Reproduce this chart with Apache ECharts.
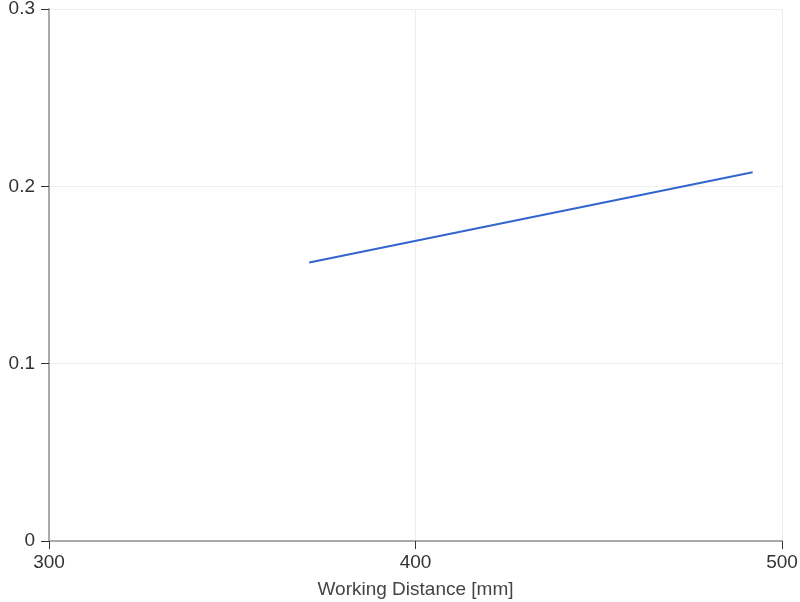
<!DOCTYPE html>
<html><head><meta charset="utf-8">
<script src="https://cdn.jsdelivr.net/npm/echarts@6/dist/echarts.min.js"></script>
<style>html,body{margin:0;padding:0;background:#fff}#c{width:800px;height:602px}</style>
</head><body><div id="c"></div>
<script>
const xValues = [371, 492];
const yValues = [0.157, 0.208];
const xTitle = 'Working Distance [mm]';

const chart = echarts.init(document.getElementById('c'), null, {renderer:'canvas'});
chart.setOption({
  animation:false,
  grid:{left:49,right:18,top:9,bottom:61,containLabel:false,outerBoundsMode:'none'},
  xAxis:{type:'value',min:300,max:500,interval:100,
    name:xTitle,nameLocation:'middle',nameGap:39,
    nameTextStyle:{color:'#444',fontSize:19,fontFamily:'Liberation Sans'},
    axisLine:{show:true,lineStyle:{color:'#aaa',width:2}},
    axisTick:{show:true,length:8,lineStyle:{color:'#333',width:1}},
    axisLabel:{color:'#333',fontSize:19,fontFamily:'Liberation Sans',margin:12},
    splitLine:{show:true,lineStyle:{color:'#eee',width:1}}},
  yAxis:{type:'value',min:0,max:0.3,interval:0.1,
    axisLine:{show:true,lineStyle:{color:'#aaa',width:2}},
    axisTick:{show:true,length:8,lineStyle:{color:'#333',width:1}},
    axisLabel:{color:'#333',fontSize:19,fontFamily:'Liberation Sans',margin:14},
    splitLine:{show:true,lineStyle:{color:'#eee',width:1}}},
  series:[{type:'line',data:xValues.map((x,i)=>[x,yValues[i]]),
    showSymbol:false,symbol:'none',lineStyle:{color:'#3366cc',width:2}}]
});
</script></body></html>
